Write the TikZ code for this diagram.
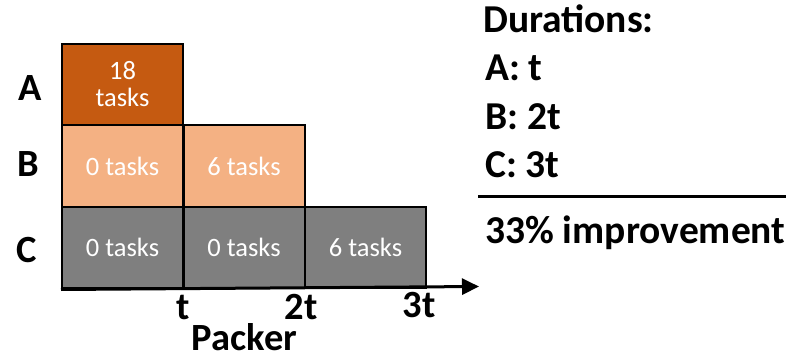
\documentclass[tikz,border=0pt]{standalone}
\usepackage{fontspec}
\setmainfont{Carlito}
\usetikzlibrary{arrows.meta}
\definecolor{cA}{HTML}{C55A11}
\definecolor{cB}{HTML}{F4B183}
\definecolor{cC}{HTML}{7F7F7F}
\begin{document}
\begin{tikzpicture}[x=1pt,y=-1pt,
  cell/.style={draw=black,line width=2pt,minimum width=121pt,minimum height=81pt,inner sep=0pt,anchor=north west,text=white,font=\fontsize{26.5}{30}\selectfont,align=center},
  big/.style={font=\bfseries\fontsize{38.5}{42}\selectfont,inner sep=0pt},
  rt/.style={font=\bfseries\fontsize{39.5}{42}\selectfont,inner sep=0pt,anchor=base west}]
\useasboundingbox (0,0) rectangle (807,361);
% cells
\node[cell,fill=cA] (a1) at (61,43) {18\\[-3pt]tasks};
\node[cell,fill=cB] (b1) at (61,124.5) {0 tasks};
\node[cell,fill=cB] (b2) at (182.5,124.5) {6 tasks};
\node[cell,fill=cC] (c1) at (61,206) {0 tasks};
\node[cell,fill=cC] (c2) at (182.5,206) {0 tasks};
\node[cell,fill=cC] (c3) at (304,206) {6 tasks};
% axis
\coordinate (ax0) at (61,289.5);
\coordinate (ax1) at (479,286.5);
\draw[line width=3pt,-{Triangle[length=17pt,width=16pt]}] (ax0) -- (ax1);
% row labels
\node[big] (la) at (30,88) {A};
\node[big] (lb) at (28,164) {B};
\node[big] (lc) at (27,250) {C};
% tick labels
\node[big,anchor=base] (t1) at (183,319) {t};
\node[big,anchor=base] (t2) at (301,319) {2t};
\node[big,anchor=base] (t3) at (419,317) {3t};
\node[big,anchor=base] (pk) at (244.5,350) {Packer};
% right text
\node[rt] (dur) at (483,33) {Durations:};
\node[rt] (da) at (485,81) {A: t};
\node[rt] (db) at (485,130) {B: 2t};
\node[rt] (dc) at (485,177) {C: 3t};
\coordinate (l0) at (478,196);
\coordinate (l1) at (786,196);
\draw[line width=3pt] (l0) -- (l1);
\node[rt] (imp) at (485,243) {33\% improvement};
\end{tikzpicture}
\end{document}
